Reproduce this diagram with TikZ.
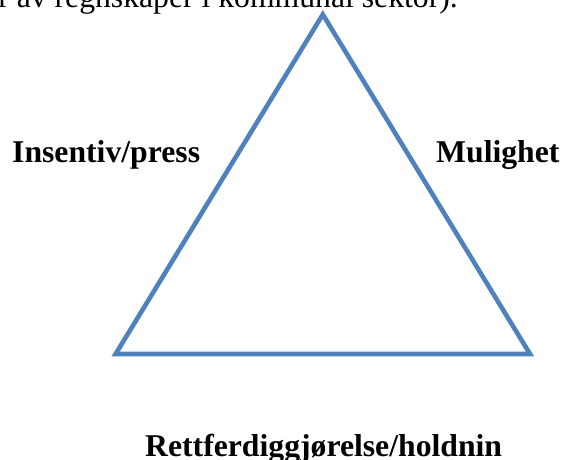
\documentclass[tikz,border=0pt]{standalone}
\usepackage{fontspec}
\setmainfont{Liberation Serif}
\definecolor{triblue}{RGB}{79,129,189}
\begin{document}
\begin{tikzpicture}[x=1pt,y=-1pt,
  lbl/.style={inner sep=0pt,font=\fontsize{31.7}{38}\selectfont\bfseries},
  toptext/.style={inner sep=0pt,font=\fontsize{31.7}{38}\selectfont},
  tri/.style={draw=triblue,line width=4.6pt,line join=miter}]
\useasboundingbox (0,0) rectangle (565,459);
\clip (0,0) rectangle (565,459);
\fill[white] (0,0) rectangle (565,459);
\node[toptext,anchor=base east] (top) at (458,7) {r av regnskaper i kommunal sektor).};
\coordinate (apex) at (322.8,14.5);
\coordinate (bl) at (115.6,354);
\coordinate (br) at (530,354);
\draw[tri] (apex) -- (br) -- (bl) -- cycle;
\node[lbl,anchor=base west] (ins) at (12,162) {Insentiv/press};
\node[lbl,anchor=base west] (mul) at (436,162) {Mulighet};
\node[lbl,anchor=base west] (ret) at (145,456) {Rettferdiggjørelse/holdnin};
\end{tikzpicture}
\end{document}
